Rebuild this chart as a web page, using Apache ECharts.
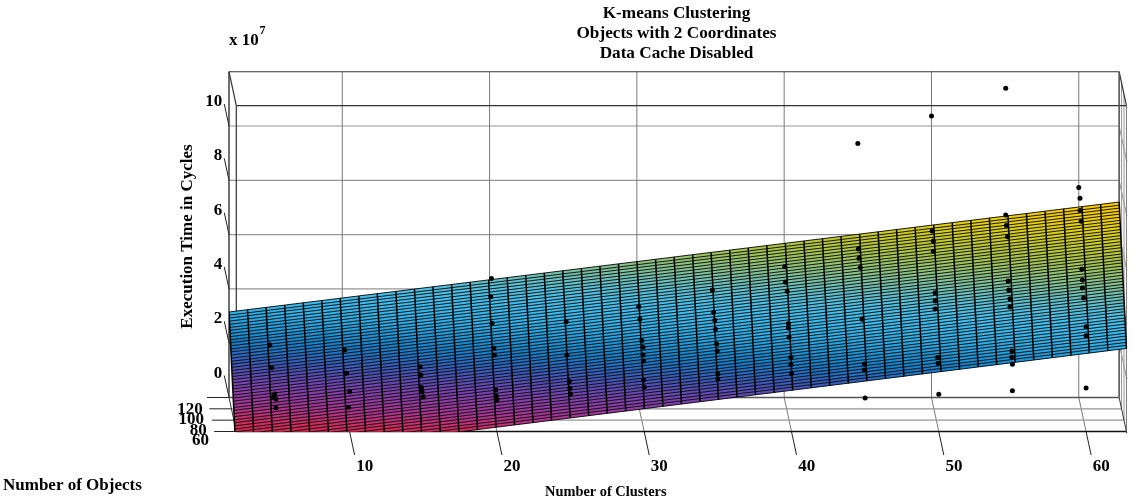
<!DOCTYPE html>
<html><head><meta charset="utf-8">
<style>html,body{margin:0;padding:0;background:#fff}#c{width:1134px;height:503px}</style>
<script src="https://cdn.jsdelivr.net/npm/echarts@6/dist/echarts.min.js"></script>
</head><body><div id="c"></div>
<script>
const titleLines = ['K-means Clustering','Objects with 2 Coordinates','Data Cache Disabled'];
const clusterTicks = [10,20,30,40,50,60];
const objectTicks = [60,80,100,120];
const cycleTicks = [0,2,4,6,8,10];

// mesh lines of constant Number of Objects: height (x 10^7 cycles) at the left and right ends
const rowObjects = [120,118.75,117.5,116.25,115,113.75,112.5,111.25,110,108.75,107.5,106.25,105,103.75,102.5,101.25,100,98.75,97.5,96.25,95,93.75,92.5,91.25,90,88.75,87.5,86.25,85,83.75,82.5,81.25,80,78.75,77.5,76.25,75,73.75,72.5,71.25,70,68.75,67.5,66.25,65,63.75,62.5,61.25,60];
const rowLeftZ = [3.15,3.06,2.98,2.89,2.80,2.71,2.63,2.54,2.45,2.36,2.28,2.19,2.10,2.02,1.93,1.84,1.75,1.67,1.58,1.49,1.40,1.32,1.23,1.14,1.05,0.97,0.88,0.79,0.71,0.62,0.53,0.44,0.36,0.27,0.18,0.09,0.01,-0.08,-0.17,-0.25,-0.34,-0.43,-0.52,-0.60,-0.69,-0.78,-0.87,-0.95,-1.04];
const rowRightZ = [7.20,7.11,7.03,6.94,6.86,6.77,6.68,6.60,6.51,6.42,6.34,6.25,6.17,6.08,5.99,5.91,5.82,5.73,5.65,5.56,5.48,5.39,5.30,5.22,5.13,5.04,4.96,4.87,4.79,4.70,4.61,4.53,4.44,4.35,4.27,4.18,4.10,4.01,3.92,3.84,3.75,3.66,3.58,3.49,3.41,3.32,3.23,3.15,3.06];

// mesh lines of constant Number of Clusters: height at the back and front ends
const columnClusters = [2.31,3.57,4.83,6.09,7.35,8.61,9.86,11.12,12.38,13.64,14.90,16.16,17.42,18.68,19.94,21.20,22.45,23.71,24.97,26.23,27.49,28.75,30.01,31.27,32.53,33.79,35.04,36.30,37.56,38.82,40.08,41.34,42.60,43.86,45.12,46.38,47.63,48.89,50.15,51.41,52.67,53.93,55.19,56.45,57.71,58.97,60.22,61.48,62.74];
const columnBackZ = [3.15,3.23,3.32,3.40,3.49,3.57,3.66,3.74,3.83,3.91,3.99,4.08,4.16,4.25,4.33,4.42,4.50,4.58,4.67,4.75,4.84,4.92,5.01,5.09,5.18,5.26,5.34,5.43,5.51,5.60,5.68,5.77,5.85,5.94,6.02,6.10,6.19,6.27,6.36,6.44,6.53,6.61,6.70,6.78,6.86,6.95,7.03,7.12,7.20];
const columnFrontZ = [-1.04,-0.95,-0.87,-0.78,-0.70,-0.61,-0.53,-0.44,-0.36,-0.27,-0.19,-0.10,-0.02,0.07,0.16,0.24,0.33,0.41,0.50,0.58,0.67,0.75,0.84,0.92,1.01,1.10,1.18,1.27,1.35,1.44,1.52,1.61,1.69,1.78,1.86,1.95,2.03,2.12,2.20,2.29,2.38,2.46,2.55,2.63,2.72,2.80,2.89,2.97,3.06];

// measured points
const dotClusters = [5,5,5,5,5,5, 10,10,10,10, 15,15,15,15,15, 20,20,20,20,20,20,20,20, 25,25,25,25,25, 30,30,30,30,30,30,30,30, 35,35,35,35,35,35,35,35, 40,40,40,40,40,40,40,40,40, 45,45,45,45,45,45,45,45, 50,50,50,50,50,50,50,50,50,50, 55,55,55,55,55,55,55,55,55,55,55,55, 60,60,60,60,60,60,60,60,60,60,60];
const dotObjects = [110,95,70,80,60,60, 100,85,60,70, 85,80,75,70,60, 105,110,100,85,80,70,65,60, 95,90,70,65,60, 105,95,80,70,70,65,65,60, 105,95,85,80,70,65,60,60, 115,110,95,85,85,80,65,65,60, 120,115,110,100,85,65,65,60, 120,115,105,105,90,90,90,70,65,60, 115,115,110,100,95,90,80,80,65,65,60,60, 120,110,110,100,95,90,90,80,60,60,60];
const dotCycles = [2.14,1.62,1.17,0.86,1.20,0.87, 2.17,1.62,1.47,0.68, 1.86,1.66,1.31,1.26,1.28, 4.70,3.92,3.15,2.54,2.40,1.32,1.20,1.16, 3.31,2.19,1.63,1.49,1.38, 3.66,3.40,2.93,2.89,2.61,2.49,1.79,1.63, 4.27,3.65,3.58,3.35,3.01,2.86,2.12,1.93, 4.92,4.45,4.44,3.46,3.29,3.05,2.63,2.36,2.14, 9.36,5.57,5.34,5.21,3.61,2.38,2.16,1.23, 10.37,6.24,6.08,5.69,4.48,4.18,3.89,2.52,2.41,1.37, 11.50,6.83,6.54,6.34,4.81,4.59,4.47,4.17,2.86,2.63,2.48,1.50, 7.74,7.55,7.10,6.91,5.25,4.95,4.66,4.50,3.86,3.53,1.60];

// colour scale: height -> colour
const colorLevels = [0,0.4,1.1,1.7,2.3,3.1,3.7,4.2,4.7,5.5,6.5,7.2];
const colorValues = ['#d82a55','#b03490','#7a42b0','#3c58b8','#1280c8','#2fb0e8','#40bff0','#58c0d8','#7cc0a0','#a8c448','#e8d010','#ffc800'];

const FONT = 'bold 17px "Liberation Serif"';
const xMin = 2.31, xMax = 62.74, zTop = 12, objBack = 120, objFront = 60;
// oblique view: how far one object moves a point along the axes of the plane
const depthX = 7.3/14.73/60, depthZ = 34/27.15/60;
const proj = (c,o,z) => [c + (objBack-o)*depthX, z - (objBack-o)*depthZ];

function colorAt(z){
  if(z<=colorLevels[0]) return colorValues[0];
  for(let i=1;i<colorLevels.length;i++){
    if(z<=colorLevels[i]){
      const t=(z-colorLevels[i-1])/(colorLevels[i]-colorLevels[i-1]);
      return echarts.color.lerp(t,[colorValues[i-1],colorValues[i]]);
    }
  }
  return colorValues[colorValues.length-1];
}
const line=(api,a,b,stroke,w)=>{
  const p=api.coord(proj(a[0],a[1],a[2])), q=api.coord(proj(b[0],b[1],b[2]));
  return {type:'line',shape:{x1:p[0],y1:p[1],x2:q[0],y2:q[1]},style:{stroke:stroke,lineWidth:w,fill:null},silent:true};
};
const GRID='#969696', GRIDV='#7a7a7a', DARK='#333', TICK='#222';

function renderFrame(params,api){
  const ch=[];
  // back wall grid
  cycleTicks.filter(z=>z>0).forEach(z=>{
    ch.push(line(api,[xMin,120,z],[xMax,120,z],GRID,1.2));
    ch.push(line(api,[xMax,120,z],[xMax,60,z],GRID,1));
  });
  clusterTicks.forEach(c=>{
    ch.push(line(api,[c,120,0],[c,120,zTop],GRIDV,1));
    ch.push(line(api,[c,120,0],[c,60,0],GRIDV,1));
    ch.push(line(api,[c,60,0],[c,18.5,0],TICK,1));
  });
  objectTicks.forEach(o=>{
    if(o!==60&&o!==120) ch.push(line(api,[xMin,o,0],[xMax,o,0],GRID,1.2));
    if(o!==60&&o!==120) ch.push(line(api,[xMax,o,0],[xMax,o,zTop],GRID,1));
    ch.push(line(api,[xMin,o,0],[xMin-1.5,o,0],TICK,1));
  });
  cycleTicks.forEach(z=>{
    ch.push(line(api,[xMin,120,z],[xMin,158.8,z],TICK,1));
    ch.push(line(api,[xMax,60,z],[xMax,57,z],TICK,1));
  });
  ch.push(line(api,[xMax,60,zTop],[xMax,57,zTop],TICK,1));
  // box
  ch.push(line(api,[xMin,120,zTop],[xMax,120,zTop],DARK,1.2));
  ch.push(line(api,[xMin,60,zTop],[xMax,60,zTop],DARK,1.2));
  ch.push(line(api,[xMin,120,zTop],[xMin,60,zTop],DARK,1.2));
  ch.push(line(api,[xMax,120,zTop],[xMax,60,zTop],DARK,1.2));
  ch.push(line(api,[xMin,120,0],[xMin,120,zTop],DARK,1.4));
  ch.push(line(api,[xMin,60,0],[xMin,60,zTop],DARK,1.2));
  ch.push(line(api,[xMax,120,0],[xMax,120,zTop],'#555',1.6));
  ch.push(line(api,[xMax,60,0],[xMax,60,zTop],'#777',1));
  ch.push(line(api,[xMin,120,0],[xMax,120,0],'#555',1.6));
  ch.push(line(api,[xMin,60,0],[xMax,60,0],'#111',1.4));
  ch.push(line(api,[xMin,120,0],[xMin,60,0],DARK,1));
  ch.push(line(api,[xMax,120,0],[xMax,60,0],DARK,1));
  return {type:'group',children:ch};
}

function renderSurface(params,api){
  const ch=[];
  for(let i=0;i<rowObjects.length-1;i++){
    const a=api.coord(proj(xMin,rowObjects[i],rowLeftZ[i])), b=api.coord(proj(xMax,rowObjects[i],rowRightZ[i]));
    const c=api.coord(proj(xMax,rowObjects[i+1],rowRightZ[i+1])), d=api.coord(proj(xMin,rowObjects[i+1],rowLeftZ[i+1]));
    const zl=(rowLeftZ[i]+rowLeftZ[i+1])/2, zr=(rowRightZ[i]+rowRightZ[i+1])/2, stops=[];
    for(let k=0;k<=12;k++){
      stops.push({offset:k/12,color:colorAt(zl+(zr-zl)*k/12)});
    }
    ch.push({type:'polygon',shape:{points:[a,b,c,d]},silent:true,
      style:{fill:new echarts.graphic.LinearGradient(0,0,1,0,stops),stroke:null}});
  }
  rowObjects.forEach((o,i)=>{
    ch.push(line(api,[xMin,o,rowLeftZ[i]],[xMax,o,rowRightZ[i]],'#000',0.9));
  });
  columnClusters.forEach((c,j)=>{
    ch.push(line(api,[c,120,columnBackZ[j]],[c,60,columnFrontZ[j]],'#000',1.5));
  });
  return {type:'group',children:ch};
}

function renderLabels(params,api){
  const ch=[];
  const txt=(s,x,y,align)=>ch.push({type:'text',silent:true,style:{text:s,x:x,y:y,font:FONT,fill:'#000',align:align,verticalAlign:'middle'}});
  clusterTicks.forEach(c=>{const p=api.coord(proj(c,120,0));txt(String(c),p[0]+22.5,467,'center');});
  const objOffset={60:[-27.3,9.5],80:[-27.2,10],100:[-27.4,11.2],120:[-26.3,12.5]};
  objectTicks.forEach(o=>{const p=api.coord(proj(xMin,o,0));txt(String(o),p[0]+objOffset[o][0],p[1]+objOffset[o][1],'right');});
  cycleTicks.forEach(z=>{const p=api.coord(proj(xMin,120,z));txt(String(z),222.3,p[1]-24.3,'right');});
  return {type:'group',children:ch};
}

const chart=echarts.init(document.getElementById('c'),null,{renderer:'canvas'});
chart.setOption({
  animation:false,
  backgroundColor:'#fff',
  title:{text:titleLines.join('\n'),left:671.5,top:-2,textAlign:'center',
    textStyle:{fontFamily:'Liberation Serif',fontWeight:'bold',fontSize:17.2,lineHeight:20.4,color:'#000',align:'center'}},
  grid:{left:229,top:72,width:898.3,height:359.7,containLabel:false,show:false},
  xAxis:{type:'value',min:xMin,max:xMin+898.3/14.73,show:false},
  yAxis:{type:'value',min:-1.26,max:11.99,show:false},
  graphic:[
    {type:'text',left:229,top:32,style:{text:'x 10',font:FONT,fill:'#000'}},
    {type:'text',left:259.5,top:25,style:{text:'7',font:'bold 12px "Liberation Serif"',fill:'#000'}},
    {type:'text',x:188,y:236.5,rotation:Math.PI/2,style:{text:'Execution Time in Cycles',font:FONT,fill:'#000',align:'center',verticalAlign:'middle'}},
    {type:'text',left:3,top:477,style:{text:'Number of Objects',font:FONT,fill:'#000'}},
    {type:'text',left:545,top:485,style:{text:'Number of Clusters',font:'bold 14.4px "Liberation Serif"',fill:'#000'}}
  ],
  series:[
    {type:'custom',coordinateSystem:'cartesian2d',silent:true,clip:false,z:1,renderItem:renderFrame,data:[[xMin,0]]},
    {type:'custom',coordinateSystem:'cartesian2d',silent:true,clip:true,z:2,renderItem:renderSurface,data:[[xMin,0]]},
    {type:'scatter',coordinateSystem:'cartesian2d',silent:true,clip:false,z:3,symbolSize:5,itemStyle:{color:'#000',opacity:1},
      data:dotClusters.map((c,i)=>proj(c,dotObjects[i],dotCycles[i]))},
    {type:'custom',coordinateSystem:'cartesian2d',silent:true,clip:false,z:4,renderItem:renderLabels,data:[[xMin,0]]}
  ]
});
</script></body></html>
